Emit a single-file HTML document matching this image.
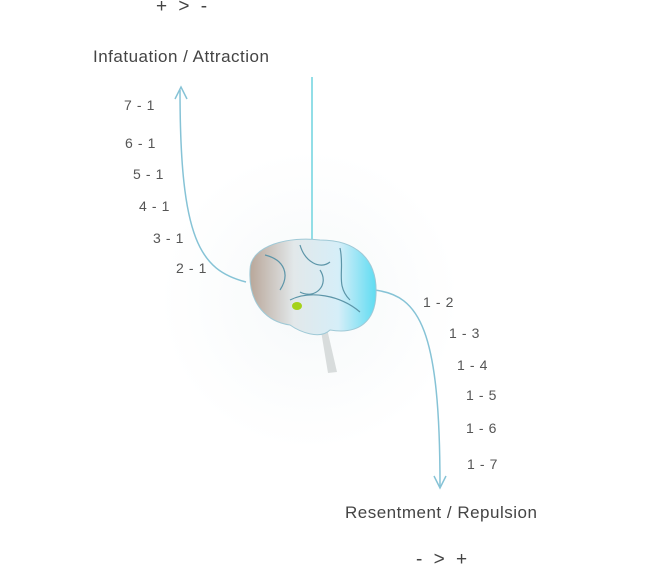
<!DOCTYPE html>
<html><head><style>
body{margin:0;width:653px;height:580px;background:#fff;position:relative;overflow:hidden;font-family:"Liberation Sans",sans-serif;color:#444}
.t{position:absolute;font-size:17px;letter-spacing:0.5px;white-space:nowrap}
.s{position:absolute;font-size:14px;letter-spacing:0.6px;white-space:nowrap;color:#555}
</style></head><body>
<svg width="653" height="580" style="position:absolute;left:0;top:0">
<defs>
<radialGradient id="halo" cx="50%" cy="50%" r="50%"><stop offset="0" stop-color="#f6f9fa"/><stop offset="1" stop-color="#fff"/></radialGradient>
<linearGradient id="br" x1="0" y1="0" x2="1" y2="0"><stop offset="0" stop-color="#b9a79a"/><stop offset="0.35" stop-color="#e2e8ea"/><stop offset="0.7" stop-color="#d6eef8"/><stop offset="1" stop-color="#5fdcf2"/></linearGradient>
</defs>
<circle cx="310" cy="300" r="150" fill="url(#halo)"/>
<line x1="312" y1="77" x2="312" y2="242" stroke="#6fd3df" stroke-width="1.5"/>
<path d="M246,282 C200,270 180,240 180,90" fill="none" stroke="#86c3d6" stroke-width="1.5"/>
<path d="M175,99 L181,87 L187,99" fill="none" stroke="#86c3d6" stroke-width="1.5"/>
<path d="M374,290 C420,295 440,330 440,486" fill="none" stroke="#86c3d6" stroke-width="1.5"/>
<path d="M434,476 L440,488 L446,476" fill="none" stroke="#86c3d6" stroke-width="1.5"/>
<path d="M325,320 L337,372 L328,373 L320,325 Z" fill="#d8dcdc"/>
<path d="M250,270 C250,245 290,236 320,240 C355,240 378,258 376,295 C375,320 360,335 330,330 C320,340 300,332 290,325 C268,322 248,305 250,270 Z" fill="url(#br)" stroke="#9fc9d6" stroke-width="1"/>
<path d="M265,255 C285,260 290,275 280,290 M300,245 C305,262 320,270 330,262 M340,248 C345,270 335,285 350,300 M290,300 C310,290 340,295 360,312 M320,270 C330,285 315,300 300,292" fill="none" stroke="#5c95a8" stroke-width="1.2"/>
<ellipse cx="297" cy="306" rx="5" ry="4" fill="#a5d21a"/>
</svg>
<div class="t" style="left:156px;top:-4px;font-size:19px;letter-spacing:3px">+ &gt; -</div>
<div class="t" style="left:93px;top:47px">Infatuation / Attraction</div>
<div class="s" style="left:124px;top:97px">7 - 1</div>
<div class="s" style="left:125px;top:135px">6 - 1</div>
<div class="s" style="left:133px;top:166px">5 - 1</div>
<div class="s" style="left:139px;top:198px">4 - 1</div>
<div class="s" style="left:153px;top:230px">3 - 1</div>
<div class="s" style="left:176px;top:260px">2 - 1</div>
<div class="s" style="left:423px;top:294px">1 - 2</div>
<div class="s" style="left:449px;top:325px">1 - 3</div>
<div class="s" style="left:457px;top:357px">1 - 4</div>
<div class="s" style="left:466px;top:387px">1 - 5</div>
<div class="s" style="left:466px;top:420px">1 - 6</div>
<div class="s" style="left:467px;top:456px">1 - 7</div>
<div class="t" style="left:345px;top:503px">Resentment / Repulsion</div>
<div class="t" style="left:416px;top:549px;font-size:19px;letter-spacing:3px">- &gt; +</div>
</body></html>
